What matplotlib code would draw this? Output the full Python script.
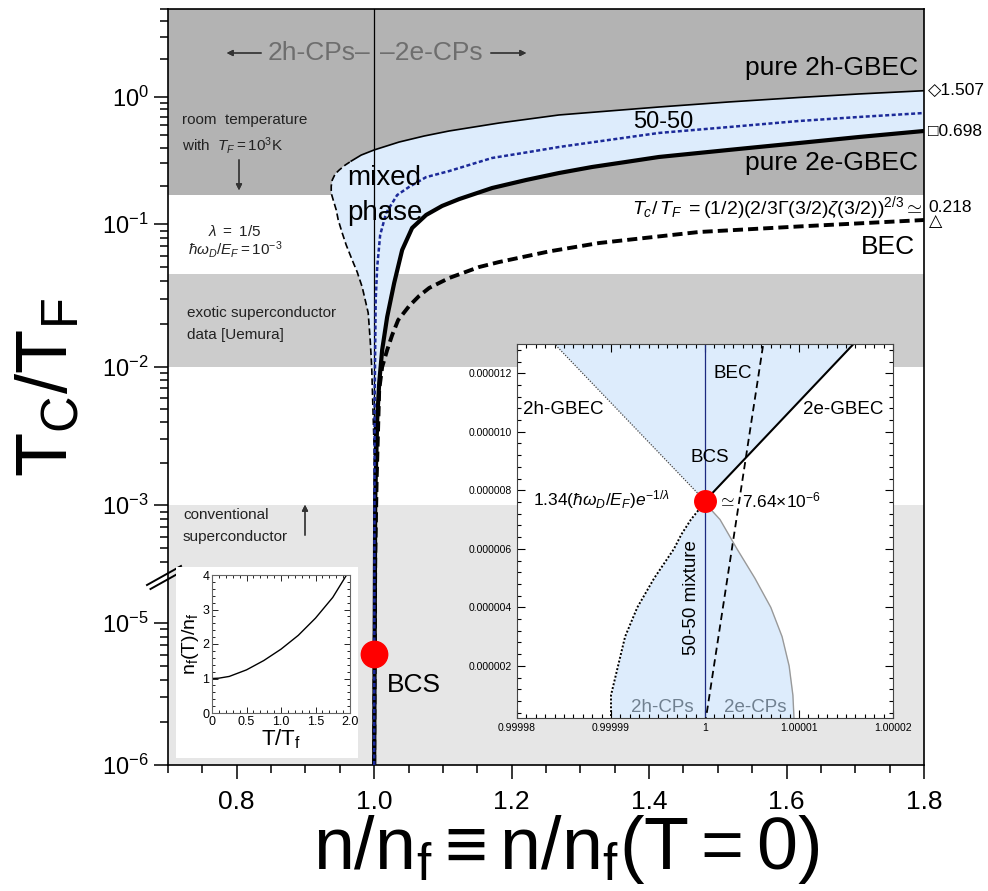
import numpy as np
import matplotlib.pyplot as plt
from matplotlib.lines import Line2D
from matplotlib.ticker import FixedLocator, MultipleLocator, NullFormatter

plt.rcParams['font.family'] = ['Liberation Sans', 'DejaVu Sans']
plt.rcParams['mathtext.fontset'] = 'custom'
plt.rcParams['mathtext.rm'] = 'Liberation Sans'
plt.rcParams['mathtext.it'] = 'Liberation Sans:italic'
plt.rcParams['mathtext.bf'] = 'Liberation Sans:bold'

# ---- main diagram data (n/n_f , Tc/TF) ----
gbec2h_x = [0.9666, 0.9811, 1.0, 1.0363, 1.0727, 1.109, 1.1817, 1.2689, 1.3416, 1.4142, 1.516, 1.6177, 1.705, 1.8]
gbec2h_y = [0.313, 0.349, 0.383, 0.442, 0.493, 0.540, 0.624, 0.722, 0.776, 0.834, 0.914, 0.991, 1.057, 1.122]

edge_x = [1.0, 1.0, 0.9978, 0.9964, 0.9942, 0.9913, 0.9826, 0.9753, 0.968, 0.9593, 0.9535, 0.9477, 0.9448,
          0.9404, 0.9375, 0.9375, 0.939, 0.9433, 0.9491, 0.9578, 0.9666]
edge_y = [1e-6, 0.00253, 0.0058, 0.01, 0.01545, 0.0239, 0.0362, 0.0461, 0.056, 0.0713, 0.0865, 0.1075, 0.129,
          0.1545, 0.175, 0.199, 0.222, 0.248, 0.266, 0.291, 0.313]

fifty_x = [1.0, 1.0007, 1.0022, 1.0044, 1.0087, 1.0174, 1.0334, 1.0509, 1.0756, 1.109, 1.1715, 1.2253, 1.2689,
           1.3416, 1.4142, 1.516, 1.6177, 1.705, 1.8]
fifty_y = [1e-6, 0.0058, 0.0294, 0.050, 0.0838, 0.122, 0.169, 0.196, 0.234, 0.261, 0.331, 0.369, 0.404,
           0.459, 0.521, 0.580, 0.647, 0.696, 0.748]

gbec2e_x = [1.0, 1.0015, 1.0044, 1.0073, 1.0116, 1.0189, 1.0291, 1.0407, 1.0552, 1.0756, 1.0988, 1.1235, 1.1715,
            1.2209, 1.2689, 1.3169, 1.3663, 1.4142, 1.516, 1.6177, 1.705, 1.8]
gbec2e_y = [1e-6, 0.0011, 0.00416, 0.00767, 0.01315, 0.0224, 0.0387, 0.0658, 0.0938, 0.1178, 0.1387, 0.157, 0.192,
            0.222, 0.252, 0.281, 0.308, 0.337, 0.383, 0.434, 0.484, 0.540]

bec_x = [1.0, 1.0015, 1.0036, 1.0073, 1.0116, 1.0189, 1.0262, 1.0349, 1.0509, 1.0654, 1.08, 1.109, 1.1526,
         1.1817, 1.2544, 1.327, 1.4724, 1.6177, 1.8]
bec_y = [1e-6, 0.000412, 0.00154, 0.00684, 0.01, 0.01315, 0.01675, 0.0213, 0.0267, 0.0314, 0.0357, 0.0419, 0.050,
         0.0542, 0.0643, 0.0736, 0.0879, 0.0961, 0.1075]

bcs_main = (1.0, 6.05e-6)

bands = [(0.17, 10.0, '#b3b3b3'), (0.01, 0.045, '#cccccc'), (1e-7, 1e-3, '#e6e6e6')]

# ---- zoomed inset near the BCS point ----
bcs_x, bcs_y = 1.0, 7.64e-6
in2h_x = [1.0, 0.999984]
in2h_y = [7.64e-6, 1.3e-5]
in2e_x = [1.0, 1.0000158]
in2e_y = [7.64e-6, 1.3e-5]
inbec_x = [1.0, 1.0000062]
inbec_y = [0.0, 1.3e-5]
cps_y = [7.64e-6, 7.3e-6, 7.0e-6, 6.5e-6, 6.0e-6, 5.0e-6, 4.0e-6, 3.0e-6, 2.0e-6, 1.0e-6, 0.0]
cps2h_x = [1.0, 0.99999925, 0.9999985, 0.9999975, 0.9999967, 0.9999946, 0.9999928, 0.9999915, 0.99999075,
           0.999990, 0.999990]
cps2e_x = [1.0, 1.00000075, 1.0000016, 1.0000025, 1.0000034, 1.0000053, 1.000007, 1.0000082, 1.00000895,
           1.00000935, 1.0000095]

# ---- small inset n_f(T)/n_f ----
nf_T = [0, 0.1, 0.25, 0.5, 0.75, 1.0, 1.25, 1.5, 1.75, 1.95]
nf_ratio = [1.0, 1.01, 1.06, 1.25, 1.52, 1.85, 2.25, 2.75, 3.35, 4.0]

W, H = 988, 891


def fp(x, y):
    return (x / W, 1 - y / H)


# broken log axis: log10(y) -> pixel row of the picture
brk_log = np.array([-12, -6, -5, np.log10(2e-5), np.log10(3e-4), -3, -2, -1, 0, 0.7, 6])
brk_pix = np.array([765 + 6 * 142, 765, 623, 580.3, 579.7, 505, 367, 224, 97, 9, 9 - 5.3 * 125.7])


def fwd(y):
    L = np.log10(np.clip(y, 1e-30, None))
    return (765 - np.interp(L, brk_log, brk_pix)) / 756


def inv(u):
    P = 765 - 756 * np.asarray(u)
    return 10 ** np.interp(-P, -brk_pix, brk_log)


fig = plt.figure(figsize=(W / 100, H / 100), dpi=100)
ax = fig.add_axes([168 / W, 1 - 765 / H, 756 / W, 756 / H])
ax.set_yscale('function', functions=(fwd, inv))
ax.set_xlim(0.7, 1.8)
ax.set_ylim(1e-6, 10 ** 0.7)

for lo, hi, c in bands:
    ax.axhspan(lo, hi, color=c, lw=0, zorder=0)

# light blue mixed phase
fill_x = edge_x + gbec2h_x[1:] + gbec2e_x[::-1]
fill_y = edge_y + gbec2h_y[1:] + gbec2e_y[::-1]
ax.fill(fill_x, fill_y, color='#ddecfc', lw=0, zorder=1)

ax.axvline(1.0, color='k', lw=0.9, zorder=3)
ax.plot(edge_x, edge_y, color='k', lw=1.2, ls=(0, (4, 2)), zorder=4)
ax.plot(gbec2h_x, gbec2h_y, color='k', lw=1.2, zorder=4)
ax.plot(bec_x, bec_y, color='k', lw=2.8, ls=(0, (2.6, 1.3)), zorder=4)
ax.plot(gbec2e_x, gbec2e_y, color='k', lw=3, zorder=4)
ax.plot(fifty_x, fifty_y, color='#1c2a99', lw=1.8, ls=(0, (1.6, 1.0)), zorder=5)
ax.plot([bcs_main[0]], [bcs_main[1]], 'o', color='#ff0000', ms=19, zorder=6)

ax.set_xticks([0.8, 1.0, 1.2, 1.4, 1.6, 1.8])
ax.set_xticklabels(['0.8', '1.0', '1.2', '1.4', '1.6', '1.8'])
ax.xaxis.set_minor_locator(MultipleLocator(0.05))
ymaj = [1e-6, 1e-5, 1e-3, 1e-2, 1e-1, 1.0]
ax.yaxis.set_major_locator(FixedLocator(ymaj))
ax.set_yticklabels([r'$10^{-6}$', r'$10^{-5}$', r'$10^{-3}$', r'$10^{-2}$', r'$10^{-1}$', r'$10^{0}$'])
ymin = ([k * 1e-6 for k in range(2, 10)] + [k * 1e-4 for k in range(4, 10)] +
        [k * 1e-3 for k in range(2, 10)] + [k * 1e-2 for k in range(2, 10)] +
        [k * 1e-1 for k in range(2, 10)] + [2, 3, 4, 5])
ax.yaxis.set_minor_locator(FixedLocator(ymin))
ax.yaxis.set_minor_formatter(NullFormatter())
ax.tick_params(which='both', direction='out', top=False, right=False, width=1.1)
ax.tick_params(which='major', length=10)
ax.tick_params(which='minor', length=6)
ax.tick_params(axis='x', labelsize=19, pad=8)
ax.tick_params(axis='y', labelsize=17, pad=4)
for s in ax.spines.values():
    s.set_linewidth(1.2)

# axis break marks
for dx, dy in [(0, 0), (3.5, 4)]:
    fig.add_artist(Line2D([(147 + dx) / W, (181 + dx) / W], [1 - (585 + dy) / H, 1 - (566 + dy) / H],
                          color='k', lw=1.4))

# axis labels
fig.text(*fp(48, 388), r'$\mathrm{T_C/T_F}$', fontsize=52, rotation=90, ha='center', va='center')
fig.text(*fp(566, 869), r'$\mathrm{n/n_f \equiv n/n_f(T = 0)}$', fontsize=53, ha='center', va='baseline')

# annotations in the main diagram
gray = '#6e6e6e'
fig.text(*fp(370, 53), '2h-CPs\u2013', fontsize=19, color=gray, ha='right', va='center')
fig.text(*fp(380, 53), '\u20132e-CPs', fontsize=19, color=gray, ha='left', va='center')
arr = dict(arrowstyle='-|>', lw=0.9, color='#333333', mutation_scale=9)
fig.add_artist(plt.annotate('', xy=fp(224, 53), xytext=fp(264, 53), xycoords='figure fraction', arrowprops=arr))
fig.add_artist(plt.annotate('', xy=fp(529, 53), xytext=fp(488, 53), xycoords='figure fraction', arrowprops=arr))

small = dict(fontsize=11, color='#222222')
fig.text(*fp(182, 120), 'room  temperature', va='center', **small)
fig.text(*fp(182, 145), r'with  $T_F = 10^3$K', va='center', **small)
fig.add_artist(plt.annotate('', xy=fp(239, 193), xytext=fp(239, 157), xycoords='figure fraction', arrowprops=arr))
fig.text(*fp(235, 232), r'$\lambda\ =\ 1/5$', ha='center', va='center', **small)
fig.text(*fp(235, 250), r'$\hbar\omega_D/E_F = 10^{-3}$', ha='center', va='center', **small)
fig.text(*fp(187, 313), 'exotic superconductor', va='center', fontsize=11, color='#222222')
fig.text(*fp(187, 335), 'data [Uemura]', va='center', fontsize=11, color='#222222')
fig.text(*fp(183, 515), 'conventional', va='center', fontsize=11, color='#222222')
fig.text(*fp(183, 537), 'superconductor', va='center', fontsize=11, color='#222222')
fig.add_artist(plt.annotate('', xy=fp(305, 502), xytext=fp(305, 538), xycoords='figure fraction', arrowprops=arr))

fig.text(*fp(347, 178), 'mixed', fontsize=20, va='center')
fig.text(*fp(347, 213), 'phase', fontsize=20, va='center')
fig.text(*fp(918, 68), 'pure 2h-GBEC', fontsize=19, ha='right', va='center')
fig.text(*fp(918, 163), 'pure 2e-GBEC', fontsize=19, ha='right', va='center')
fig.text(*fp(633, 122), '50-50', fontsize=17, va='center')
fig.text(*fp(915, 247), 'BEC', fontsize=19, ha='right', va='center')
fig.text(*fp(387, 685), 'BCS', fontsize=19, va='center')
fig.text(*fp(922, 208), r'$T_c/\,T_F\ =(1/2)(2/3\Gamma(3/2)\zeta(3/2))^{2/3}\simeq$', fontsize=14,
         ha='right', va='center')
fig.text(*fp(928, 90), '\u25c71.507', fontsize=12.5, va='center')
fig.text(*fp(928, 132), '\u25a10.698', fontsize=12.5, va='center')
fig.text(*fp(928, 208), '0.218', fontsize=12.5, va='center')
fig.text(*fp(929, 222), '\u25b3', fontsize=12.5, va='center')

# ---- zoomed inset ----
ins = fig.add_axes([517 / W, 1 - 718 / H, 376 / W, 374 / H], zorder=5)
ins.set_facecolor('white')
ins.set_xlim(0.99998, 1.00002)
ins.set_ylim(2.2e-7, 1.3e-5)
ins.fill([in2h_x[0], in2h_x[1], in2e_x[1]], [in2h_y[0], in2h_y[1], in2e_y[1]], color='#ddecfc', lw=0)
ins.fill_betweenx(cps_y, cps2h_x, cps2e_x, color='#ddecfc', lw=0)
ins.axvline(1.0, color='#1c2a80', lw=0.9)
ins.plot(in2h_x, in2h_y, color='#444444', lw=0.9, ls=(0, (1, 1.2)))
ins.plot(in2e_x, in2e_y, color='k', lw=1.5)
ins.plot(inbec_x, inbec_y, color='k', lw=1.3, ls=(0, (4, 2.5)))
ins.plot(cps2h_x, cps_y, color='k', lw=1.4, ls=(0, (1, 1)))
ins.plot(cps2e_x, cps_y, color='#999999', lw=1.0)
ins.plot([bcs_x], [bcs_y], 'o', color='#ff0000', ms=15.5, zorder=5)
ins.set_xticks(1 + np.array([-2, -1, 0, 1, 2]) * 1e-5)
ins.set_xticklabels(['0.99998', '0.99999', '1', '1.00001', '1.00002'])
ins.set_yticks(np.array([2, 4, 6, 8, 10, 12]) * 1e-6)
ins.set_yticklabels(['0.000002', '0.000004', '0.000006', '0.000008', '0.000010', '0.000012'])
ins.xaxis.set_minor_locator(FixedLocator(1 + np.arange(-20, 21) * 1e-6))
ins.yaxis.set_minor_locator(FixedLocator(np.arange(0, 14e-6, 4e-7)))
ins.tick_params(which='both', direction='in', top=True, right=True, labelsize=7.5, width=0.8)
ins.tick_params(which='major', length=6)
ins.tick_params(which='minor', length=3)
for s in ins.spines.values():
    s.set_color('#444444')

fig.text(*fp(733, 373), 'BEC', fontsize=13.5, ha='center', va='center', zorder=10)
fig.text(*fp(563, 410), '2h-GBEC', fontsize=13.5, ha='center', va='center', zorder=10)
fig.text(*fp(843, 410), '2e-GBEC', fontsize=13.5, ha='center', va='center', zorder=10)
fig.text(*fp(710, 458), 'BCS', fontsize=13.5, ha='center', va='center', zorder=10)
fig.text(*fp(602, 500), r'$1.34(\hbar\omega_D/E_F)e^{-1/\lambda}$', fontsize=12.5, ha='center', va='center', zorder=10)
fig.text(*fp(718, 500), r'$\simeq\ 7.64{\times}10^{-6}$', fontsize=12.5, ha='left', va='center', zorder=10)
fig.text(*fp(692, 598), '50-50 mixture', fontsize=13.5, rotation=90, ha='center', va='center', zorder=10)
fig.text(*fp(662, 708), '2h-CPs', fontsize=13.5, color='#708090', ha='center', va='center', zorder=10)
fig.text(*fp(755, 708), '2e-CPs', fontsize=13.5, color='#708090', ha='center', va='center', zorder=10)

# ---- small inset n_f(T)/n_f ----
panel = fig.add_axes([176 / W, 1 - 758 / H, 182 / W, 191 / H], zorder=4)
panel.set_facecolor('white')
panel.set_xticks([])
panel.set_yticks([])
for s in panel.spines.values():
    s.set_visible(False)
sm = fig.add_axes([212 / W, 1 - 713 / H, 138 / W, 138 / H], zorder=5)
sm.plot(nf_T, nf_ratio, color='k', lw=1)
sm.set_xlim(0, 2)
sm.set_ylim(0, 4)
sm.set_xticks([0, 0.5, 1.0, 1.5, 2.0])
sm.set_xticklabels(['0', '0.5', '1.0', '1.5', '2.0'])
sm.set_yticks([0, 1, 2, 3, 4])
sm.xaxis.set_minor_locator(MultipleLocator(0.1))
sm.yaxis.set_minor_locator(MultipleLocator(0.2))
sm.tick_params(which='both', direction='in', top=True, right=True, labelsize=9, width=0.6, pad=2)
sm.tick_params(which='major', length=4)
sm.tick_params(which='minor', length=2)
for s in sm.spines.values():
    s.set_color('#666666')
sm.set_xlabel(r'$\mathrm{T/T_f}$', fontsize=16, labelpad=0)
sm.set_ylabel(r'$\mathrm{n_f(T)/n_f}$', fontsize=14, labelpad=1)

fig.savefig('out.png', dpi=100)
